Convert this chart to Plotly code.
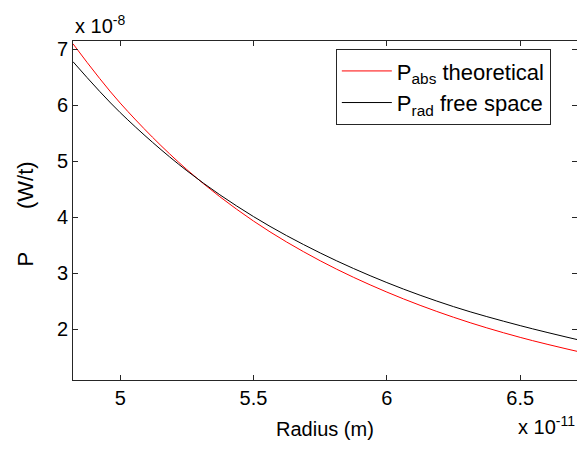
import plotly.graph_objects as go

# Radius in units of 1e-11 m, power in units of 1e-8 W
radius = [4.823, 5.0, 5.25, 5.5, 5.75, 6.0, 6.25, 6.5, 6.75]
p_abs = [7.10, 6.04, 4.85, 3.93, 3.22, 2.66, 2.21, 1.85, 1.56]
p_rad = [6.78, 5.87, 4.83, 4.01, 3.36, 2.83, 2.40, 2.06, 1.77]
x_ticks = [5, 5.5, 6, 6.5]
y_ticks = [2, 3, 4, 5, 6, 7]

FONT = "Arial, Liberation Sans, Helvetica, sans-serif"

fig = go.Figure()
fig.add_trace(go.Scatter(x=radius, y=p_abs, mode="lines", line=dict(color="#ff0000", width=1, shape="spline"),
                         name="P<sub>abs</sub> theoretical"))
fig.add_trace(go.Scatter(x=radius, y=p_rad, mode="lines", line=dict(color="#000000", width=1, shape="spline"),
                         name="P<sub>rad</sub> free space"))

axis_common = dict(showgrid=False, zeroline=False, showline=True, linecolor="#262626", linewidth=1,
                   mirror="ticks", ticks="inside", ticklen=5, tickcolor="#262626", tickwidth=1,
                   tickfont=dict(family=FONT, size=20, color="black"))

fig.update_xaxes(range=[4.823, 6.713], tickvals=x_ticks, ticktext=[str(v) for v in x_ticks], **axis_common)
fig.update_yaxes(range=[1.088, 7.15], tickvals=y_ticks, ticktext=[str(v) for v in y_ticks], **axis_common)

fig.update_layout(
    width=569, height=434,
    margin=dict(l=65, r=0, t=33, b=62),
    plot_bgcolor="white", paper_bgcolor="white",
    showlegend=True,
    legend=dict(x=0.5215, y=0.976, xanchor="left", yanchor="top", bgcolor="white",
                bordercolor="#262626", borderwidth=1,
                font=dict(family=FONT, size=22, color="black"), tracegroupgap=0, itemwidth=50),
    annotations=[
        dict(text="x 10<sup>-8</sup>", xref="paper", yref="paper", x=0, y=1, xanchor="left", yanchor="bottom",
             yshift=2, showarrow=False, font=dict(family=FONT, size=20, color="black")),
        dict(text="x 10<sup>-11</sup>", xref="paper", yref="paper", x=1, y=0, xanchor="right", yanchor="top",
             yshift=-31, showarrow=False, font=dict(family=FONT, size=20, color="black")),
        dict(text="Radius (m)", xref="paper", yref="paper", x=0.5, y=0, xanchor="center", yanchor="top",
             yshift=-36, xshift=0, showarrow=False, font=dict(family=FONT, size=20, color="black")),
        dict(text="P" + "\u00a0" * 7 + "(W/t)", xref="paper", yref="paper", x=0, y=0.5,
             xanchor="center", yanchor="middle", xshift=-48, yshift=-4, textangle=-90, showarrow=False,
             font=dict(family=FONT, size=22, color="black")),
    ],
)

fig.write_html("out.html")
